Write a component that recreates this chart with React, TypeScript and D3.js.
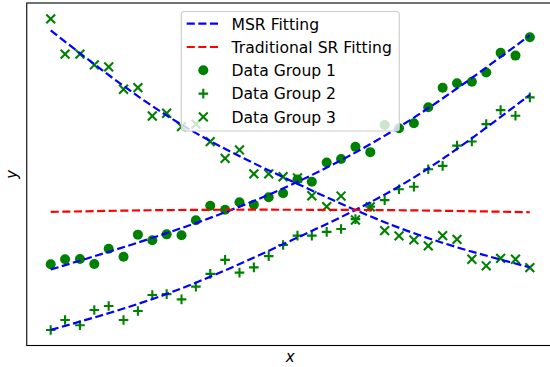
import React from "react";
import * as d3 from "d3";

const xValues = [0, 0.3, 0.61, 0.91, 1.21, 1.52, 1.82, 2.12, 2.42, 2.73, 3.03, 3.33, 3.64, 3.94, 4.24, 4.55, 4.85, 5.15, 5.45, 5.76, 6.06, 6.36, 6.67, 6.97, 7.27, 7.58, 7.88, 8.18, 8.48, 8.79, 9.09, 9.39, 9.7, 10];

const group1 = [2.11, 2.27, 2.28, 2.12, 2.61, 2.35, 3.06, 2.88, 3.07, 3.04, 3.52, 3.99, 3.86, 4.1, 4.02, 4.26, 4.39, 4.83, 4.76, 5.38, 5.49, 5.88, 5.71, 6.58, 6.48, 6.64, 7.15, 7.78, 7.92, 7.97, 8.27, 8.9, 8.81, 9.4];
const group2 = [0.0, 0.32, 0.15, 0.64, 0.77, 0.32, 0.61, 1.12, 1.15, 0.98, 1.39, 1.8, 2.25, 1.84, 2.01, 2.37, 2.73, 3.03, 3.03, 3.15, 3.24, 3.56, 3.96, 4.17, 4.52, 4.6, 5.16, 5.27, 5.92, 6.05, 6.61, 7.06, 6.88, 7.47];
const group3 = [9.99, 8.86, 8.86, 8.51, 8.45, 7.73, 7.78, 6.87, 6.96, 6.53, 6.61, 6.05, 5.51, 5.78, 5.01, 5.01, 4.92, 4.88, 4.31, 3.96, 4.3, 3.53, 3.95, 3.19, 3.02, 2.89, 2.7, 3.03, 2.91, 2.27, 2.06, 2.3, 2.27, 2.0];

// fitted curves read at sample x positions
const fitX = [0, 2.5, 5, 7.5, 10];
const msrFit1 = [1.94, 3.15, 4.65, 6.74, 9.46];
const msrFit2 = [0.0, 1.2, 2.86, 4.82, 7.55];
const msrFit3 = [9.62, 6.81, 4.8, 3.15, 2.01];
const tradFit = [3.79, 3.85, 3.86, 3.84, 3.78];

const legendLabels = ["MSR Fitting", "Traditional SR Fitting", "Data Group 1", "Data Group 2", "Data Group 3"];

const W = 550;
const H = 367;
const axLeft = 26.75;
const axRight = 553.8;
const axTop = 3;
const axBottom = 345.5;

export default function App() {
  const x = d3.scaleLinear().domain([-0.5, 10.5]).range([axLeft, axRight]);
  const y = d3.scaleLinear().domain([-0.5, 10.5]).range([axBottom, axTop]);

  const line = d3
    .line<number>()
    .x((_, i) => x(fitX[i]))
    .y((d) => y(d))
    .curve(d3.curveNatural);

  const green = "#008000";
  const dash = "8.1,3.5";
  const lw = 2.2;
  const ms = 4.8;
  const cr = 5;

  const plusPath = (cx: number, cy: number) =>
    `M${cx - ms},${cy}H${cx + ms}M${cx},${cy - ms}V${cy + ms}`;
  const xPath = (cx: number, cy: number) => {
    const h = ms * 0.92;
    return `M${cx - h},${cy - h}L${cx + h},${cy + h}M${cx - h},${cy + h}L${cx + h},${cy - h}`;
  };

  const fontFamily = "'DejaVu Sans', sans-serif";
  const fs = 15.6;

  const legX = 181.3;
  const legY = 11.5;
  const rows = [29.5, 52.8, 76.1, 99.4, 122.7];
  const handleX0 = 186.7;
  const handleX1 = 218.3;
  const markerX = 203.3;

  return (
    <svg
      width={W}
      height={H}
      style={{ position: "absolute", left: 0, top: 0, background: "#fff" }}
      fontFamily={fontFamily}
    >
      <rect x={0} y={0} width={W} height={H} fill="#fff" />
      <defs>
        <clipPath id="ax">
          <rect x={axLeft} y={axTop} width={axRight - axLeft} height={axBottom - axTop} />
        </clipPath>
      </defs>
      <g clipPath="url(#ax)">
        {group1.map((v, i) => (
          <circle key={"c" + i} cx={x(xValues[i])} cy={y(v)} r={cr} fill={green} />
        ))}
        {group2.map((v, i) => (
          <path key={"p" + i} d={plusPath(x(xValues[i]), y(v))} stroke={green} strokeWidth={2.1} fill="none" />
        ))}
        {group3.map((v, i) => (
          <path key={"x" + i} d={xPath(x(xValues[i]), y(v))} stroke={green} strokeWidth={2.1} fill="none" />
        ))}
        {[msrFit1, msrFit2, msrFit3].map((s, k) => (
          <path key={"m" + k} d={line(s) || ""} stroke="#0000ff" strokeWidth={lw} strokeDasharray={dash} fill="none" />
        ))}
        <path d={line(tradFit) || ""} stroke="#ff0000" strokeWidth={lw} strokeDasharray={dash} fill="none" />
      </g>
      {/* spines */}
      <rect
        x={axLeft}
        y={axTop}
        width={axRight - axLeft}
        height={axBottom - axTop}
        fill="none"
        stroke="#000"
        strokeWidth={1.1}
      />
      {/* axis labels */}
      <text
        x={(axLeft + axRight) / 2}
        y={362}
        textAnchor="middle"
        fontSize={15}
        fontStyle="italic"
        fill="#000"
      >
        x
      </text>
      <text
        transform={`translate(17,${(axTop + axBottom) / 2}) rotate(-90)`}
        textAnchor="middle"
        fontSize={15}
        fontStyle="italic"
        fill="#000"
      >
        y
      </text>
      {/* legend */}
      <rect
        x={legX}
        y={legY}
        width={218}
        height={119.5}
        rx={3}
        fill="#fff"
        fillOpacity={0.8}
        stroke="#cccccc"
        strokeWidth={1.1}
      />
      <line x1={handleX0} x2={handleX1} y1={rows[0] - 5.8} y2={rows[0] - 5.8} stroke="#0000ff" strokeWidth={lw} strokeDasharray={dash} />
      <line x1={handleX0} x2={handleX1} y1={rows[1] - 5.8} y2={rows[1] - 5.8} stroke="#ff0000" strokeWidth={lw} strokeDasharray={dash} />
      <circle cx={markerX} cy={rows[2] - 5.8} r={cr} fill={green} />
      <path d={plusPath(markerX, rows[3] - 5.8)} stroke={green} strokeWidth={2.1} fill="none" />
      <path d={xPath(markerX, rows[4] - 5.8)} stroke={green} strokeWidth={2.1} fill="none" />
      {legendLabels.map((t, i) => (
        <text key={t} x={231.5} y={rows[i]} fontSize={fs} fill="#000">
          {t}
        </text>
      ))}
    </svg>
  );
}
